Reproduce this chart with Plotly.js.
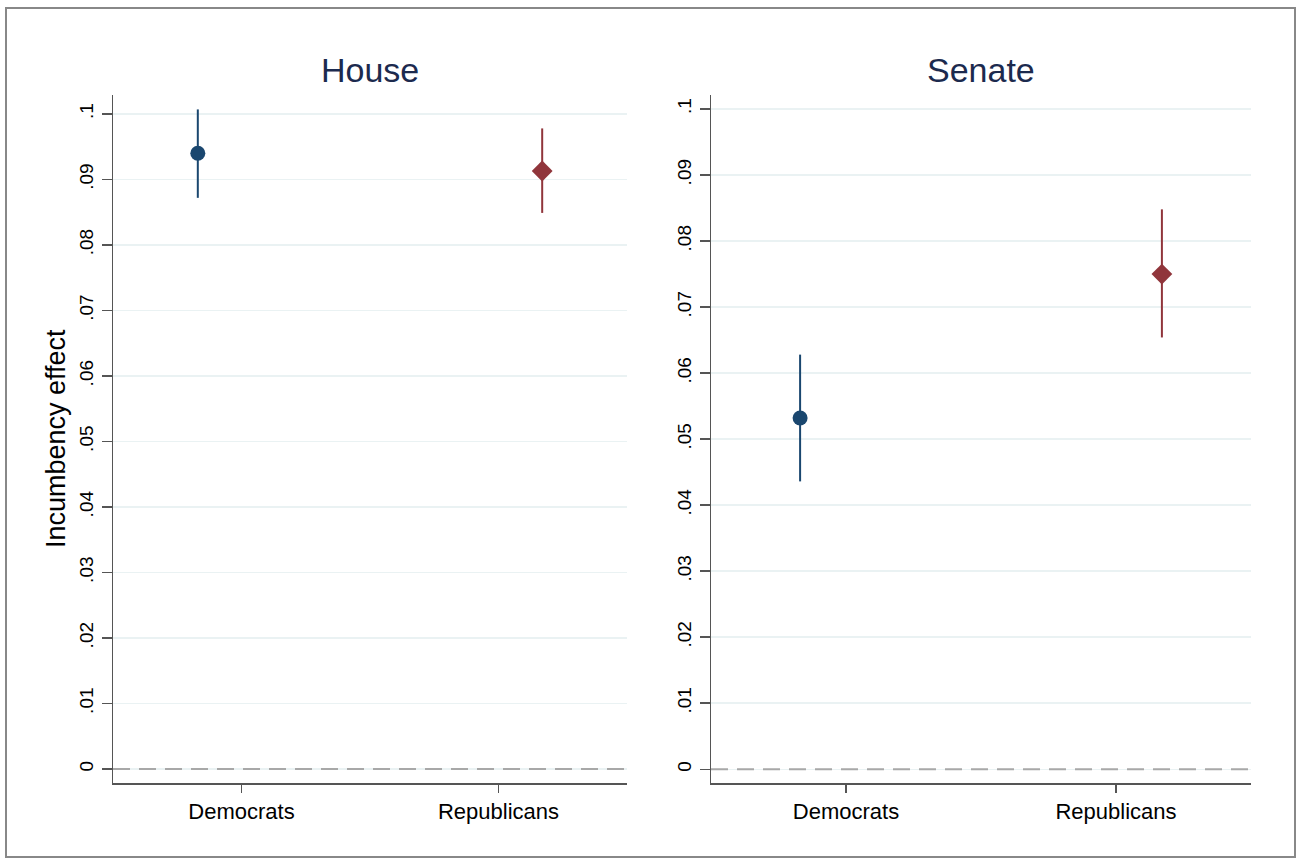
<!DOCTYPE html>
<html>
<head>
<meta charset="utf-8">
<script src="https://cdn.plot.ly/plotly-3.0.1.min.js"></script>
<style>html,body{margin:0;padding:0;background:#fff;}#chart{width:1301px;height:862px;}</style>
</head>
<body>
<div id="chart"></div>
<script>
// ---- data ----
const parties = ["Democrats", "Republicans"];
const panelTitles = ["House", "Senate"];
const houseEst = [0.0940, 0.0913];
const houseLo  = [0.0872, 0.0849];
const houseHi  = [0.1007, 0.0978];
const senateEst = [0.0532, 0.0750];
const senateLo  = [0.0436, 0.0654];
const senateHi  = [0.0628, 0.0848];
const yTickVals = [0, 0.01, 0.02, 0.03, 0.04, 0.05, 0.06, 0.07, 0.08, 0.09, 0.1];
const yTickText = ["0", ".01", ".02", ".03", ".04", ".05", ".06", ".07", ".08", ".09", ".1"];
const yTitle = "Incumbency effect";

// ---- styles ----
const FONT = "Liberation Sans, Arial, Helvetica, sans-serif";
const colors = ["#1a476f", "#90353b"];
const symbols = ["circle", "diamond"];
const offset = [-0.17, 0.17];   // dodge of each party from its category tick
const catPos = parties.map((p, i) => i + 1);

function makeTraces(est, lo, hi, xa, ya) {
  return parties.map((p, i) => ({
    type: "scatter", mode: "markers",
    x: [catPos[i] + offset[i]], y: [est[i]],
    xaxis: xa, yaxis: ya,
    marker: {color: colors[i], symbol: symbols[i], size: symbols[i] === "circle" ? 15 : 16, line: {width: 0}},
    error_y: {type: "data", symmetric: false,
      array: [hi[i] - est[i]], arrayminus: [est[i] - lo[i]],
      color: colors[i], thickness: 2, width: 0},
    showlegend: false, hoverinfo: "skip", cliponaxis: false
  }));
}

const data = [
  ...makeTraces(houseEst, houseLo, houseHi, "x", "y"),
  ...makeTraces(senateEst, senateLo, senateHi, "x2", "y2")
];

const W = 1301, H = 862;
const px = v => v / W, py = v => 1 - v / H;

const xCommon = {
  range: [0.5, 2.5], tickmode: "array", tickvals: catPos, ticktext: parties,
  showgrid: false, zeroline: false, showline: true, linecolor: "#555", linewidth: 1.5,
  ticks: "outside", ticklen: 8, tickwidth: 1.5, tickcolor: "#555",
  tickfont: {family: FONT, size: 22, color: "#000"}, fixedrange: true
};
const yCommon = {
  tickmode: "array", tickvals: yTickVals, ticktext: yTickText, tickangle: -90,
  showgrid: true, gridcolor: "#eaf2f3", gridwidth: 1.5, zeroline: false,
  showline: true, linecolor: "#555", linewidth: 1.5,
  ticks: "outside", ticklen: 10, tickwidth: 1.5, tickcolor: "#555",
  tickfont: {family: FONT, size: 19, color: "#000"}, ticklabelstandoff: 1, fixedrange: true
};

const layout = {
  width: W, height: H,
  margin: {l: 0, r: 0, t: 0, b: 0},
  paper_bgcolor: "#fff", plot_bgcolor: "#fff",
  font: {family: FONT},
  xaxis:  Object.assign({}, xCommon, {domain: [px(113), px(627)], anchor: "y"}),
  yaxis:  Object.assign({}, yCommon, {domain: [py(783), py(95)], anchor: "x", range: [-0.00213, 0.1029]}),
  xaxis2: Object.assign({}, xCommon, {domain: [px(711), px(1251)], anchor: "y2"}),
  yaxis2: Object.assign({}, yCommon, {domain: [py(783), py(95)], anchor: "x2", range: [-0.00208, 0.10212]}),
  shapes: [
    {type: "line", xref: "x domain", yref: "y", x0: 0, x1: 1, y0: 0, y1: 0,
     line: {color: "#a8a8a8", width: 2, dash: "17px,9px"}},
    {type: "line", xref: "x2 domain", yref: "y2", x0: 0, x1: 1, y0: 0, y1: 0,
     line: {color: "#a8a8a8", width: 2, dash: "17px,9px"}},
    {type: "rect", xref: "paper", yref: "paper", x0: px(6), x1: px(1295), y0: py(857), y1: py(8),
     line: {color: "#888", width: 2}, layer: "below"}
  ],
  annotations: [
    {text: panelTitles[0], xref: "x domain", yref: "paper", x: 0.5, y: py(70), yanchor: "middle",
     showarrow: false, font: {family: FONT, size: 34, color: "#1c2a4e"}},
    {text: panelTitles[1], xref: "x2 domain", yref: "paper", x: 0.5, y: py(70), yanchor: "middle",
     showarrow: false, font: {family: FONT, size: 34, color: "#1c2a4e"}},
    {text: yTitle, xref: "paper", yref: "paper", x: px(56), y: py(439), textangle: -90,
     xanchor: "center", yanchor: "middle", showarrow: false, font: {family: FONT, size: 27, color: "#000"}}
  ]
};

Plotly.newPlot("chart", data, layout, {displayModeBar: false, staticPlot: true});
</script>
</body>
</html>
